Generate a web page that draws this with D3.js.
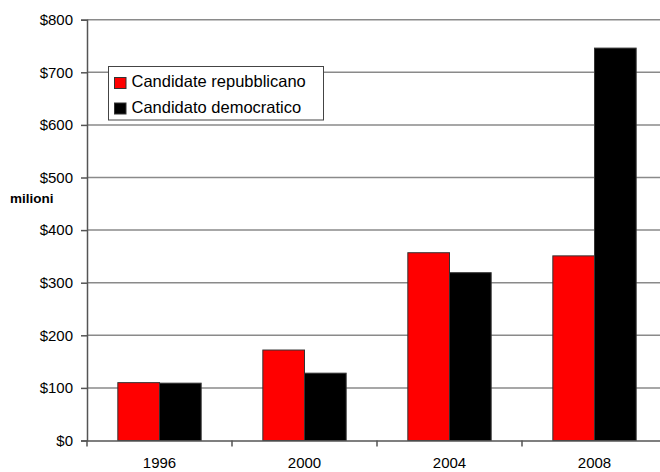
<!DOCTYPE html>
<html>
<head>
<meta charset="utf-8">
<script src="https://cdn.jsdelivr.net/npm/d3@7"></script>
<style>
  html, body { margin: 0; padding: 0; background: #fff; }
  svg { display: block; font-family: Arial, "Liberation Sans", sans-serif; }
</style>
</head>
<body>
<svg id="chart" width="660" height="472"></svg>
<script>
// Election years and campaign spending (millions of dollars)
const years = ["1996", "2000", "2004", "2008"];
const repubblicano = [110, 172, 357, 351];
const democratico = [109, 128, 319, 746];
const seriesNames = ["Candidate repubblicano", "Candidato democratico"];
const seriesColors = ["#ff0000", "#000000"];
const yTicks = [0, 100, 200, 300, 400, 500, 600, 700, 800];

const svg = d3.select("#chart");
const margin = { left: 87, top: 19.7, right: -7, bottom: 31.5 };
const W = 660, H = 472;

const x = d3.scaleBand().domain(years)
  .range([margin.left, W - margin.right]).paddingInner(0).paddingOuter(0);
const y = d3.scaleLinear().domain([0, 800]).range([H - margin.bottom, margin.top]);
// Two bars per year, centred in each category with wide gaps around them
const inner = d3.scaleBand().domain([0, 1]).range([0, x.bandwidth()])
  .paddingInner(0).paddingOuter(0.74);

// Horizontal gridlines
svg.append("g").selectAll("line").data(yTicks.filter(d => d > 0)).join("line")
  .attr("x1", margin.left).attr("x2", W)
  .attr("y1", d => y(d)).attr("y2", d => y(d))
  .attr("stroke", "#8a8a8a").attr("stroke-width", 1.5);

// Bars
const data = years.map((yr, i) => ({ yr, vals: [repubblicano[i], democratico[i]] }));
const groups = svg.append("g").selectAll("g").data(data).join("g")
  .attr("transform", d => `translate(${x(d.yr)},0)`);
groups.selectAll("rect").data(d => d.vals.map((v, k) => ({ v, k }))).join("rect")
  .attr("x", d => inner(d.k))
  .attr("width", inner.bandwidth())
  .attr("y", d => y(d.v))
  .attr("height", d => y(0) - y(d.v))
  .attr("fill", d => seriesColors[d.k])
  .attr("stroke", "#333")
  .attr("stroke-width", 1);

// Y axis
const yAxis = d3.axisLeft(y).tickValues(yTicks).tickSize(6).tickPadding(8)
  .tickFormat(d => "$" + d);
const gy = svg.append("g").attr("transform", `translate(${margin.left},0)`).call(yAxis);
gy.select(".domain").attr("stroke", "#555").attr("stroke-width", 1.5);
gy.selectAll(".tick line").attr("stroke", "#555").attr("stroke-width", 1.5);
gy.selectAll(".tick text").attr("font-size", 15).attr("fill", "#000")
  .attr("font-family", "Arial, 'Liberation Sans', sans-serif");

// X axis
const xAxis = d3.axisBottom(x).tickSize(0).tickPadding(17);
const gx = svg.append("g").attr("transform", `translate(0,${y(0)})`).call(xAxis);
gx.select(".domain").attr("stroke", "#555").attr("stroke-width", 1.5);
gx.selectAll(".tick text").attr("font-size", 15).attr("fill", "#000")
  .attr("font-family", "Arial, 'Liberation Sans', sans-serif");
// Category separator ticks
gx.append("g").selectAll("line").data(years).join("line")
  .attr("x1", d => x(d)).attr("x2", d => x(d))
  .attr("y1", 0).attr("y2", 6)
  .attr("stroke", "#555").attr("stroke-width", 1.5);

// Units label
svg.append("text").attr("x", 10).attr("y", 203)
  .attr("font-size", 13.5).attr("font-weight", "bold").text("milioni");

// Legend
const lg = svg.append("g").attr("transform", "translate(108.5,66.5)");
lg.append("rect").attr("width", 215).attr("height", 53.5)
  .attr("fill", "#fff").attr("stroke", "#444").attr("stroke-width", 1);
seriesNames.forEach((name, k) => {
  lg.append("rect").attr("x", 6).attr("y", 11 + k * 25.5).attr("width", 11.5).attr("height", 11)
    .attr("fill", seriesColors[k]).attr("stroke", "#333").attr("stroke-width", 1);
  lg.append("text").attr("x", 23).attr("y", 20.5 + k * 25.5)
    .attr("font-size", 16.5).attr("fill", "#000").text(name);
});
</script>
</body>
</html>
